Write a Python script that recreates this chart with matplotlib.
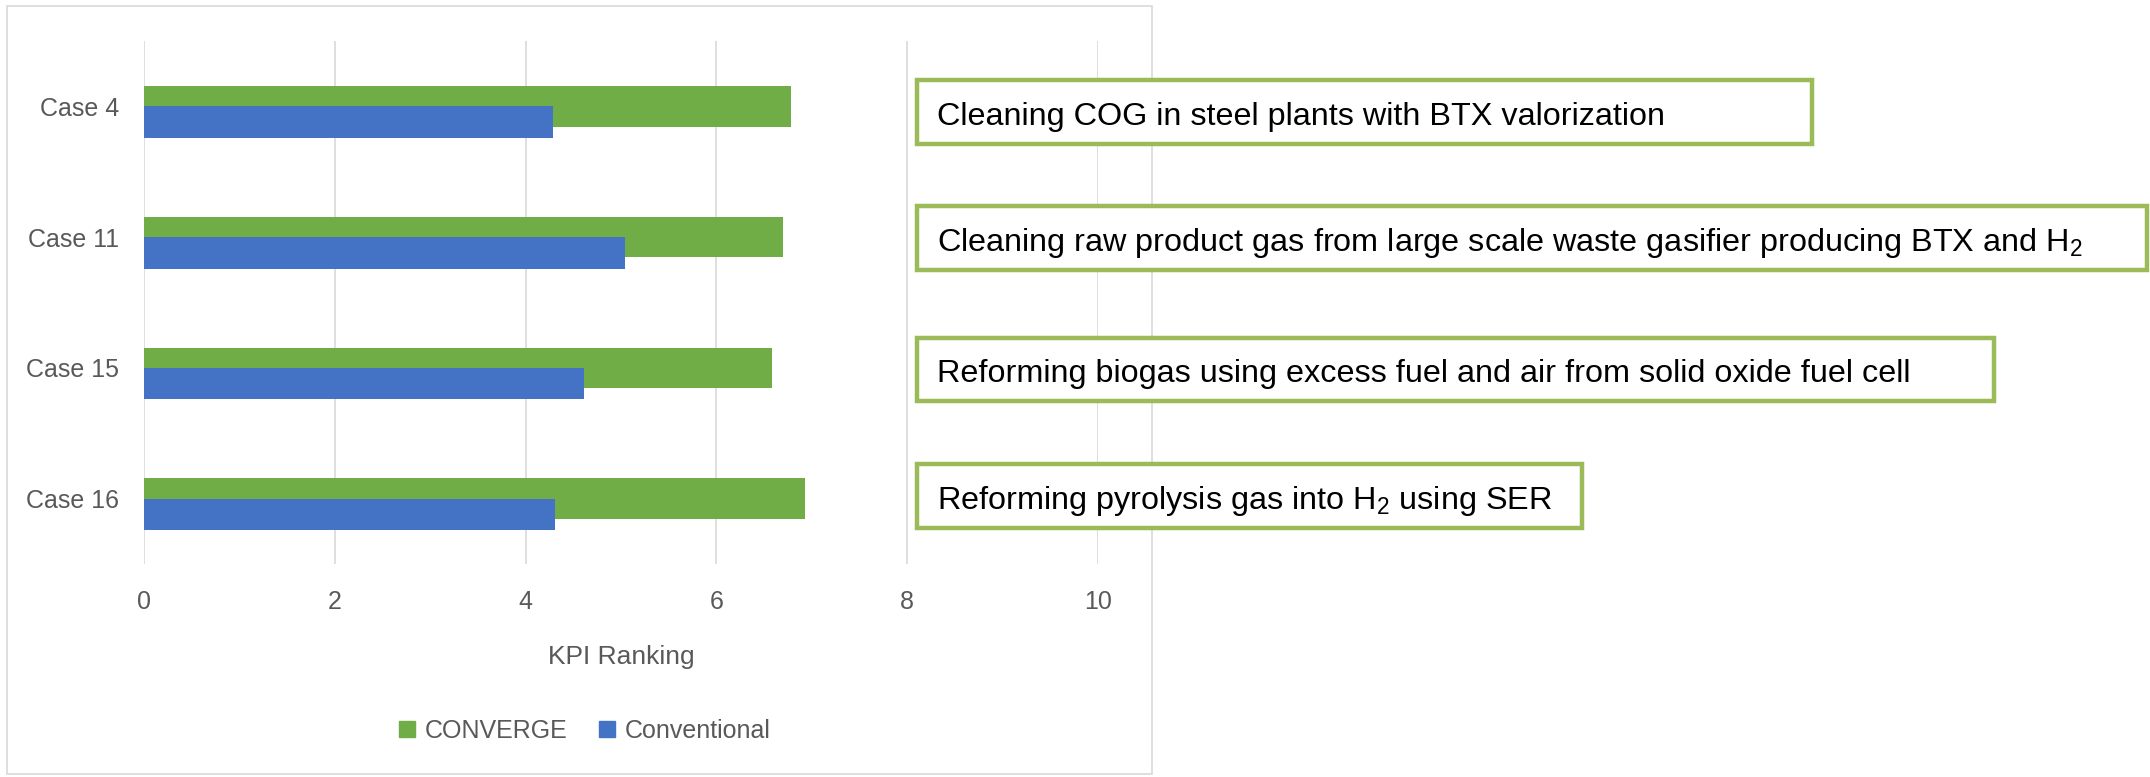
import matplotlib
matplotlib.use("Agg")
import matplotlib.pyplot as plt
from matplotlib.patches import Rectangle
from matplotlib.lines import Line2D
import numpy as np

# ---- data ----
cases = ["Case 4", "Case 11", "Case 15", "Case 16"]
converge = [6.78, 6.70, 6.58, 6.93]
conventional = [4.29, 5.04, 4.61, 4.31]
xticks = [0, 2, 4, 6, 8, 10]
descriptions = [
    "Cleaning COG in steel plants with BTX valorization",
    r"Cleaning raw product gas from large scale waste gasifier producing BTX and H$_\mathregular{2}$",
    "Reforming biogas using excess fuel and air from solid oxide fuel cell",
    r"Reforming pyrolysis gas into H$_\mathregular{2}$ using SER",
]
series_names = ["CONVERGE", "Conventional"]

GREEN = "#70ad47"
BLUE = "#4472c4"
GRID = "#d9d9d9"
TXT = "#595959"
BOXG = "#9bbb59"

plt.rcParams["font.family"] = ["Liberation Sans", "DejaVu Sans"]
plt.rcParams["mathtext.fontset"] = "custom"
plt.rcParams["mathtext.rm"] = "Liberation Sans"
plt.rcParams["mathtext.it"] = "Liberation Sans:italic"
plt.rcParams["mathtext.bf"] = "Liberation Sans:bold"

W, H = 2150, 777
fig = plt.figure(figsize=(W / 100, H / 100), dpi=100)

def fx(px):
    return px / W

def fy(py):
    return 1 - py / H

# chart area border
fig.patches.append(Rectangle((fx(7), fy(774)), fx(1152) - fx(7), fy(6) - fy(774),
                             transform=fig.transFigure, fill=False,
                             edgecolor=GRID, linewidth=1.2, zorder=0))

ax = fig.add_axes([fx(144), fy(564), fx(1098) - fx(144), fy(41) - fy(564)])
y = np.arange(len(cases))
ax.barh(y, converge, height=0.31, color=GREEN, zorder=2)
ax.barh(y + 0.12, conventional, height=0.24, color=BLUE, zorder=3)

ax.set_xlim(0, 10)
ax.set_ylim(3.5, -0.5)
ax.set_xticks(xticks)
ax.set_xticklabels([str(t) for t in xticks])
ax.set_yticks(y)
ax.set_yticklabels(cases)
ax.tick_params(axis="both", length=0, labelsize=18, labelcolor=TXT)
ax.tick_params(axis="y", pad=18)
ax.tick_params(axis="x", pad=19)
for s in ax.spines.values():
    s.set_visible(False)
ax.set_axisbelow(True)
ax.xaxis.grid(True, color=GRID, linewidth=1.2)
ax.set_xlabel("KPI Ranking", fontsize=19, color=TXT, labelpad=22)

handles = [Line2D([], [], linestyle="none", marker="s", markersize=11,
                  markerfacecolor=c, markeredgecolor=c) for c in (GREEN, BLUE)]
fig.legend(handles, series_names, loc="center", bbox_to_anchor=(fx(584), fy(731)),
           ncol=2, frameon=False, fontsize=18, labelcolor=TXT,
           handlelength=0.8, handletextpad=0.3, columnspacing=1.2)

# description boxes
boxes = [(917, 80, 1812, 144), (917, 206, 2147, 270), (917, 338, 1994, 401), (917, 464, 1582, 528)]
for (x0, y0, x1, y1), txt in zip(boxes, descriptions):
    fig.patches.append(Rectangle((fx(x0), fy(y1)), fx(x1) - fx(x0), fy(y0) - fy(y1),
                                 transform=fig.transFigure, fill=True, facecolor="white",
                                 edgecolor=BOXG, linewidth=3.2, zorder=1))
    fig.text(fx(937), fy((y0 + y1) / 2 + 1), txt, fontsize=23.3, color="black",
             ha="left", va="center_baseline", zorder=2)

fig.savefig("out.png", dpi=100)
